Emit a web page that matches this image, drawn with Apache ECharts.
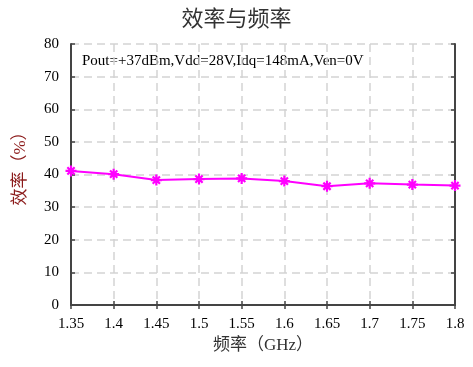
<!DOCTYPE html>
<html><head><meta charset="utf-8">
<script src="https://cdn.jsdelivr.net/npm/echarts@6/dist/echarts.min.js"></script>
<style>html,body{margin:0;padding:0;background:#fff}#c{width:473px;height:367px}</style>
</head><body><div id="c"></div>
<script>
const categories = ['1.35','1.4','1.45','1.5','1.55','1.6','1.65','1.7','1.75','1.8'];
const efficiency = [41.1, 40.1, 38.3, 38.6, 38.8, 38.0, 36.4, 37.3, 36.9, 36.6];
const titleText = '效率与频率';
const xName = '频率（GHz）';
const yName = '效率（%）';
const note = 'Pout=+37dBm,Vdd=28V,Idq=148mA,Ven=0V';

const fontSerif = '"Liberation Serif","Noto Sans CJK SC",serif';
const gridLine = {show:true, lineStyle:{color:'#d4d4d4', width:1.5, type:[8,5]}};
const tick = {show:true,inside:true,length:4,lineStyle:{color:'#444',width:1.5}};
const chart = echarts.init(document.getElementById('c'));
const asterisk = 'path://M0,4H10V6H0Z M4,0H6V10H4Z M1,2.4L2.4,1L9,7.6L7.6,9Z M7.6,1L9,2.4L2.4,9L1,7.6Z';
chart.setOption({
  animation:false,
  title:{text:titleText,left:'center',top:4,textStyle:{fontFamily:fontSerif,fontSize:22,fontWeight:'normal',color:'#333'}},
  graphic:[{type:'text',left:82,top:54,style:{text:note,font:'15px '+fontSerif,fill:'#000'}}],
  grid:{left:71,right:18,top:44,bottom:62},
  xAxis:[{type:'category',data:categories,boundaryGap:false,
    name:xName,nameLocation:'middle',nameGap:30,nameTextStyle:{fontFamily:fontSerif,fontSize:17,color:'#333'},
    axisLine:{lineStyle:{color:'#444',width:2}},axisTick:tick,
    axisLabel:{fontFamily:fontSerif,fontSize:15,color:'#000',margin:12},splitLine:gridLine},
   {type:'category',data:categories,boundaryGap:false,position:'top',
    axisLine:{lineStyle:{color:'#444',width:2}},axisTick:tick,axisLabel:{show:false},splitLine:{show:false}}],
  yAxis:[{type:'value',min:0,max:80,interval:10,
    name:yName,nameLocation:'middle',nameGap:42,nameTextStyle:{fontFamily:fontSerif,fontSize:17,color:'#8b1a1a',padding:[0,0,0,20]},
    axisLine:{show:true,lineStyle:{color:'#444',width:2}},axisTick:tick,
    axisLabel:{fontFamily:fontSerif,fontSize:15,color:'#000',margin:12},splitLine:gridLine},
   {type:'value',min:0,max:80,interval:10,position:'right',
    axisLine:{show:true,lineStyle:{color:'#444',width:2}},axisTick:tick,
    axisLabel:{show:false},splitLine:{show:false}}],
  series:[{type:'line',data:efficiency,symbol:asterisk,symbolSize:11,
    lineStyle:{color:'#ff00ff',width:2},itemStyle:{color:'#ff00ff'}}]
});
</script></body></html>
